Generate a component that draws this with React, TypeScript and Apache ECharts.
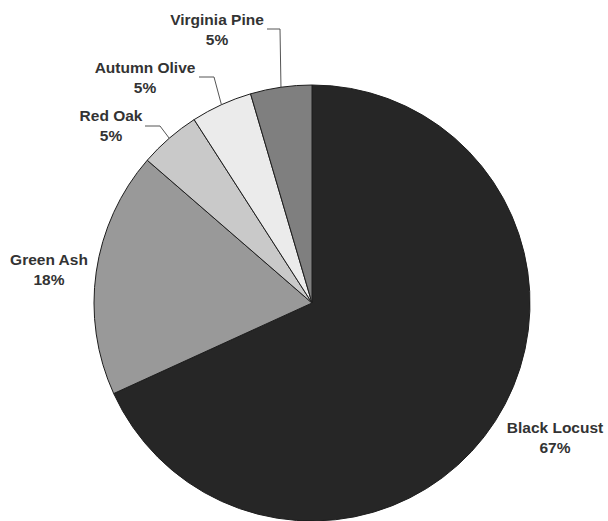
import React, { useEffect, useRef } from "react";
import * as echarts from "echarts";

const species = ["Black Locust", "Green Ash", "Red Oak", "Autumn Olive", "Virginia Pine"];
const counts = [15, 4, 1, 1, 1];
const percentLabels = [67, 18, 5, 5, 5];
const sliceColors = ["#262626", "#999999", "#c9c9c9", "#ebebeb", "#7f7f7f"];

// label placement (layout only)
const labelPos: { x: number; y: number; line?: number[][] }[] = [
  { x: 555, y: 437 },
  { x: 49, y: 269 },
  { x: 111, y: 125, line: [[160, 126], [145, 126]] },
  { x: 145, y: 77, line: [[214, 77], [199, 77]] },
  { x: 217, y: 29, line: [[280, 29], [267, 29]] },
];

export default function App() {
  const ref = useRef<HTMLDivElement>(null);
  useEffect(() => {
    if (!ref.current) return;
    const chart = echarts.init(ref.current, undefined, { renderer: "svg" });
    chart.setOption({
      animation: false,
      backgroundColor: "#ffffff",
      series: [
        {
          type: "pie",
          center: [312, 303],
          radius: 218,
          startAngle: 90,
          clockwise: true,
          avoidLabelOverlap: false,
          itemStyle: { borderColor: "#1e1e1e", borderWidth: 1 },
          label: {
            show: true,
            position: "outside",
            fontFamily: "Liberation Sans, Arial, sans-serif",
            fontWeight: "bold",
            fontSize: 15.5,
            lineHeight: 20,
            color: "#333333",
            align: "center",
            formatter: (p: any) => `${p.name}\n${percentLabels[p.dataIndex]}%`,
          },
          labelLine: {
            show: true,
            lineStyle: { color: "#555555", width: 1 },
            length: 20,
            length2: 10,
          },
          labelLayout: (params: any) => {
            const pos = labelPos[params.dataIndex];
            const res: any = { x: pos.x, y: pos.y, align: "center", verticalAlign: "middle" };
            if (pos.line && params.labelLinePoints) {
              res.labelLinePoints = [params.labelLinePoints[0], ...pos.line];
            }
            return res;
          },
          data: species.map((name, i) => ({
            name,
            value: counts[i],
            itemStyle: { color: sliceColors[i] },
            labelLine: { show: i >= 2 },
          })),
        },
      ],
    });
    return () => chart.dispose();
  }, []);
  return (
    <div
      ref={ref}
      style={{ position: "absolute", left: 0, top: 0, width: 608, height: 521 }}
    />
  );
}
